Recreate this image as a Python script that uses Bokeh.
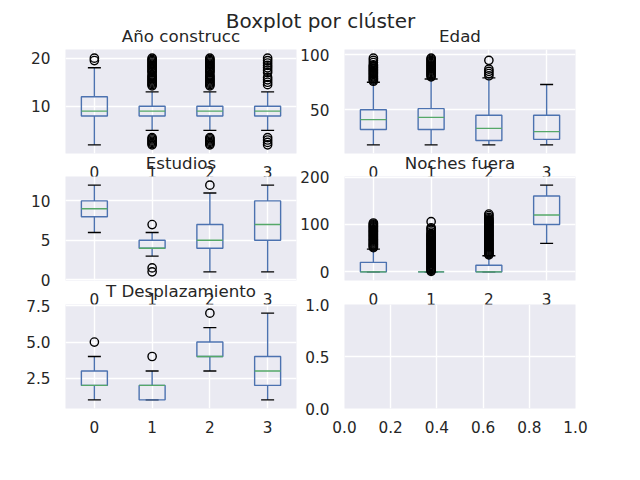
from bokeh.plotting import figure
from bokeh.layouts import row, column
from bokeh.models import Range1d, FixedTicker, CustomJSTickFormatter, PrintfTickFormatter, Label
from bokeh.embed import file_html
from bokeh.resources import INLINE

BLUE = "#4C72B0"
GREEN = "#55A868"
TEXT = "#262626"
BG = "#EAEAF2"
FONT = "DejaVu Sans"

clusters = ["0", "1", "2", "3"]

# Año construcc
ano_whislo = [2, 5, 5, 5]
ano_q1 = [8, 8, 8, 8]
ano_med = [9, 9, 9, 9]
ano_q3 = [12, 10, 10, 10]
ano_whishi = [18, 13, 13, 13]
ano_fliers = [
    [19.5, 20],
    [2, 2.25, 2.5, 2.75, 3, 3.25, 3.5, 14.25, 14.5, 14.75, 15, 15.25, 15.5, 15.75,
     16, 16.25, 16.5, 17, 17.25, 17.5, 17.75, 18, 18.25, 18.5, 18.75, 19, 19.25,
     19.5, 19.75, 20],
    [2, 2.25, 2.5, 2.75, 3, 3.25, 3.5, 14.25, 14.5, 14.75, 15, 15.25, 15.5, 15.75,
     16, 16.25, 16.5, 17, 17.25, 17.5, 17.75, 18, 18.25, 18.5, 18.75, 19, 19.25,
     19.5, 19.75, 20],
    [2, 2.5, 3, 3.5, 14.5, 15, 15.5, 16, 17, 17.5, 18, 18.5, 19, 19.5, 20],
]
ano_ticks = [10, 20]

# Edad
edad_whislo = [18, 18, 18, 18]
edad_q1 = [32, 32, 22, 23]
edad_med = [41, 43, 33, 30]
edad_q3 = [50, 51, 45, 45]
edad_whishi = [75, 78, 79, 73]
edad_fliers = [
    [76, 77, 78, 79, 80, 81, 82, 83, 84, 85, 86, 87, 88, 89, 90, 91, 93, 95, 97],
    [80, 81, 82, 83, 84, 85, 86, 87, 88, 89, 90, 91, 92, 93, 94, 95, 96, 97],
    [81, 83, 85, 87, 95],
    [],
]
edad_ticks = [50, 100]

# Estudios
est_whislo = [6, 3, 1, 1]
est_q1 = [8, 4, 4, 5]
est_med = [9, 4, 5, 7]
est_q3 = [10, 5, 7, 10]
est_whishi = [12, 6, 11, 12]
est_fliers = [[], [1, 1.5, 7], [12], []]
est_ticks = [0, 5, 10]

# Noches fuera
noc_whislo = [0, 0, 0, 60]
noc_q1 = [0, 0, 0, 100]
noc_med = [0, 0, 0, 120]
noc_q3 = [20, 0, 14, 160]
noc_whishi = [48, 0, 34, 183]
noc_fliers = [
    [51, 53, 55, 57, 59, 61, 63, 65, 67, 69, 71, 73, 75, 77, 79, 81, 83, 85, 87,
     89, 91, 93, 95, 97, 99, 101, 103],
    [1, 3, 5, 7, 9, 11, 13, 15, 17, 19, 21, 23, 25, 27, 29, 31, 33, 35, 37, 39,
     41, 43, 45, 47, 49, 51, 53, 55, 57, 59, 61, 63, 65, 67, 69, 71, 73, 75, 77,
     79, 81, 84, 88, 91, 93, 106],
    [36, 38, 40, 42, 44, 46, 48, 50, 52, 54, 56, 58, 60, 62, 64, 66, 68, 70, 72,
     74, 76, 78, 80, 82, 84, 86, 88, 90, 92, 94, 96, 98, 100, 102, 104, 106, 108,
     110, 112, 115, 119, 122],
    [],
]
noc_ticks = [0, 100, 200]

# T Desplazamiento
td_whislo = [1, 1, 3, 1]
td_q1 = [2, 1, 4, 2]
td_med = [2, 2, 4, 3]
td_q3 = [3, 2, 5, 4]
td_whishi = [4, 3, 6, 7]
td_fliers = [[5], [4], [7], []]
td_ticks = [2.5, 5.0, 7.5]

# empty panel
empty_xticks = [0.0, 0.2, 0.4, 0.6, 0.8, 1.0]
empty_yticks = [0.0, 0.5, 1.0]

SUPTITLE = "Boxplot por clúster"

# ---- layout geometry ----
FW, FH = 231, 104
TB, BB = 40, 40           # top / bottom borders of each panel canvas
H0 = 50                   # suptitle strip height
FRAME_TOPS = [49, 176, 304]
XSTAND, YSTAND = 12, 15


def style(p, title):
    p.outline_line_color = None
    p.border_fill_color = None
    for ax in list(p.xaxis) + list(p.yaxis):
        ax.axis_line_color = None
        ax.major_tick_line_color = None
        ax.minor_tick_line_color = None
        ax.major_tick_out = 0
        ax.major_tick_in = 0
        ax.minor_tick_out = 0
        ax.minor_tick_in = 0
        ax.major_label_text_font = FONT
        ax.major_label_text_font_size = "15.28px"
        ax.major_label_text_color = TEXT
    p.xaxis.major_label_standoff = XSTAND
    p.yaxis.major_label_standoff = YSTAND
    p.grid.grid_line_color = "white"
    p.grid.grid_line_width = 1.4
    if title:
        p.title.text = title
        p.title.align = "center"
        p.title.text_font = FONT
        p.title.text_font_size = "16.67px"
        p.title.text_font_style = "normal"
        p.title.text_color = TEXT
        p.title.standoff = 7


def new_fig(left, x_range, y_range):
    return figure(frame_width=FW, frame_height=FH, x_range=x_range, y_range=y_range,
                  min_border_left=65 if left else 60, min_border_right=4 if left else 65,
                  min_border_top=TB, min_border_bottom=BB,
                  toolbar_location=None, output_backend="svg",
                  background_fill_color=BG)


def box_panel(title, whislo, q1, med, q3, whishi, fliers, yticks, left, fmt=None):
    xs = [i + 1 for i in range(len(clusters))]
    allv = whislo + whishi + [v for fl in fliers for v in fl]
    lo, hi = min(allv), max(allv)
    pad = 0.1 * (hi - lo)
    p = new_fig(left, Range1d(0.5, len(clusters) + 0.5), Range1d(lo - pad, hi + pad))
    style(p, title)
    p.xaxis.ticker = FixedTicker(ticks=xs)
    p.xaxis.formatter = CustomJSTickFormatter(args=dict(labels=clusters),
                                              code="return labels[Math.round(tick) - 1]")
    p.yaxis.ticker = FixedTicker(ticks=yticks)
    p.xgrid.ticker = FixedTicker(ticks=xs)
    p.ygrid.ticker = FixedTicker(ticks=yticks)
    if fmt:
        p.yaxis.formatter = PrintfTickFormatter(format=fmt)

    bw, cw = 0.45, 0.225
    p.segment(x0=xs, y0=q3, x1=xs, y1=whishi, line_color=BLUE, line_width=1.4)
    p.segment(x0=xs, y0=q1, x1=xs, y1=whislo, line_color=BLUE, line_width=1.4)
    p.segment(x0=[x - cw / 2 for x in xs], y0=whishi, x1=[x + cw / 2 for x in xs], y1=whishi,
              line_color="black", line_width=1.4)
    p.segment(x0=[x - cw / 2 for x in xs], y0=whislo, x1=[x + cw / 2 for x in xs], y1=whislo,
              line_color="black", line_width=1.4)
    p.vbar(x=xs, bottom=q1, top=q3, width=bw, fill_color=None, line_color=BLUE, line_width=1.4)
    p.segment(x0=[x - bw / 2 for x in xs], y0=med, x1=[x + bw / 2 for x in xs], y1=med,
              line_color=GREEN, line_width=1.4)
    fx = [xs[i] for i, fl in enumerate(fliers) for _ in fl]
    fy = [v for fl in fliers for v in fl]
    p.scatter(x=fx, y=fy, size=8.3, marker="circle", fill_color=None,
              line_color="black", line_width=1.4)
    return p


p1 = box_panel("Año construcc", ano_whislo, ano_q1, ano_med, ano_q3, ano_whishi, ano_fliers, ano_ticks, True)
p2 = box_panel("Edad", edad_whislo, edad_q1, edad_med, edad_q3, edad_whishi, edad_fliers, edad_ticks, False)
p3 = box_panel("Estudios", est_whislo, est_q1, est_med, est_q3, est_whishi, est_fliers, est_ticks, True)
p4 = box_panel("Noches fuera", noc_whislo, noc_q1, noc_med, noc_q3, noc_whishi, noc_fliers, noc_ticks, False)
p5 = box_panel("T Desplazamiento", td_whislo, td_q1, td_med, td_q3, td_whishi, td_fliers, td_ticks, True, "%.1f")

p6 = new_fig(False, Range1d(0, 1), Range1d(0, 1))
style(p6, None)
p6.xaxis.ticker = FixedTicker(ticks=empty_xticks)
p6.yaxis.ticker = FixedTicker(ticks=empty_yticks)
p6.xgrid.ticker = FixedTicker(ticks=empty_xticks)
p6.ygrid.ticker = FixedTicker(ticks=empty_yticks)
p6.xaxis.formatter = PrintfTickFormatter(format="%.1f")
p6.yaxis.formatter = PrintfTickFormatter(format="%.1f")

for p in (p2, p4, p6):
    p.margin = (0, 0, 0, -16)

sup = figure(width=640, height=H0, x_range=(0, 1), y_range=(0, 1), min_border=0,
             x_axis_location=None, y_axis_location=None, toolbar_location=None,
             output_backend="svg", outline_line_color=None,
             border_fill_color=None, background_fill_color=None)
sup.grid.visible = False
sup.add_layout(Label(x=320, y=30, x_units="screen", y_units="screen", text=SUPTITLE,
                     text_align="center", text_baseline="alphabetic", text_font=FONT,
                     text_font_size="20px", text_color=TEXT))

r1 = row(p1, p2)
r2 = row(p3, p4)
r3 = row(p5, p6)
r1.margin = (FRAME_TOPS[0] - TB - H0, 0, 0, 0)
r2.margin = (FRAME_TOPS[1] - TB - (FRAME_TOPS[0] + FH + BB), 0, 0, 0)
r3.margin = (FRAME_TOPS[2] - TB - (FRAME_TOPS[1] + FH + BB), 0, 0, 0)
sup.styles = {"position": "relative", "z-index": "1"}
r1.styles = {"position": "relative", "z-index": "2"}
r2.styles = {"position": "relative", "z-index": "3"}
r3.styles = {"position": "relative", "z-index": "4"}

root = column(sup, r1, r2, r3)
open("out.html", "w").write(file_html(root, INLINE))
